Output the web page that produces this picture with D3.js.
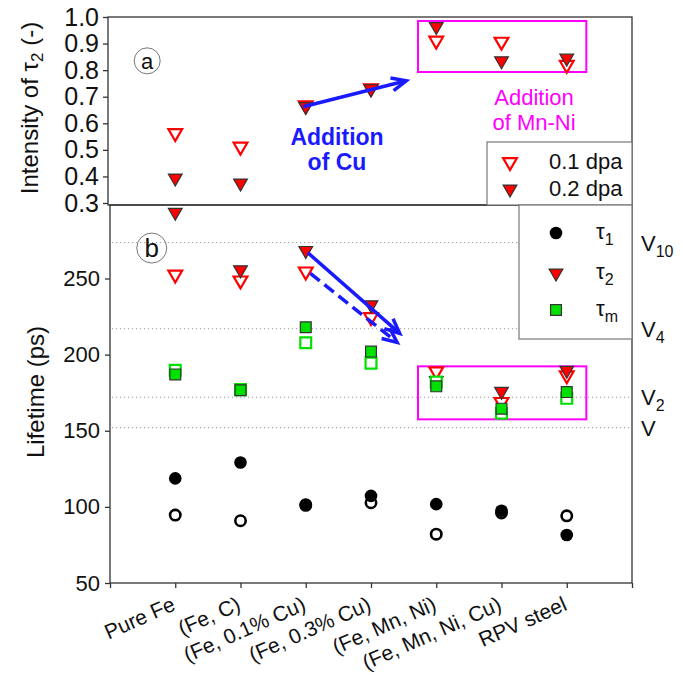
<!DOCTYPE html>
<html>
<head>
<meta charset="utf-8">
<script src="https://cdn.jsdelivr.net/npm/d3@7"></script>
<style>
  body { margin: 0; background: #fff; }
  svg { font-family: "Liberation Sans", Arial, sans-serif; }
  .axis path { display: none; }
  .axis line { stroke: #333; stroke-width: 1.3; }
  .axis text { fill: #111; font-family: "Liberation Sans", Arial, sans-serif; }
</style>
</head>
<body>
<svg width="683" height="681"></svg>
<script>
// categories and values
var categories = ["Pure Fe", "(Fe, C)", "(Fe, 0.1% Cu)", "(Fe, 0.3% Cu)", "(Fe, Mn, Ni)", "(Fe, Mn, Ni, Cu)", "RPV steel"];

// (a) intensity of tau2
var int01 = [0.563, 0.512, 0.668, 0.732, 0.911, 0.907, 0.820];
var int02 = [0.394, 0.375, 0.663, 0.730, 0.964, 0.835, 0.845];

// (b) lifetimes in ps, 0.1 dpa = open, 0.2 dpa = filled
var tau1_01 = [94.6, 90.9, 101.0, 102.7, 82.1, 96.0, 94.1];
var tau1_02 = [118.7, 129.1, 101.6, 107.2, 101.8, 97.5, 81.5];
var tau2_01 = [252.6, 248.7, 254.6, 224.6, 189.0, 168.9, 186.4];
var tau2_02 = [293.5, 255.7, 268.4, 232.7, 183.0, 175.9, 189.7];
var taum_01 = [189.7, 177.0, 207.8, 194.4, 182.0, 161.5, 171.3];
var taum_02 = [187.0, 176.6, 218.0, 202.0, 179.2, 164.5, 175.4];

var topTicks = [0.3, 0.4, 0.5, 0.6, 0.7, 0.8, 0.9, 1.0];
var botTicks = [50, 100, 150, 200, 250];

// vacancy cluster levels
var vacLevels = [273.6, 217, 172, 152];
var vacLabels = [["V", "10"], ["V", "4"], ["V", "2"], ["V", ""]];

var svg = d3.select("svg");
var L = 110, R = 632, midY = 205;

var x = d3.scaleLinear().domain([0, 8]).range([L, R]);
var yA = d3.scaleLinear().domain([0.3, 1.0]).range([203, 17]);
var yB = d3.scaleLinear().domain([50, 250]).range([583, 278.5]);

var red = "#ff0000", green = "#00e000", blue = "#1a1aff", magenta = "#ff00ff";

// ---------- dotted vacancy lines ----------
svg.selectAll(".vac").data(vacLevels).enter().append("line")
  .attr("x1", L + 2).attr("x2", R)
  .attr("y1", function(d) { return yB(d); }).attr("y2", function(d) { return yB(d); })
  .attr("stroke", "#999").attr("stroke-width", 1).attr("stroke-dasharray", "1.2,2.8");

var vt = svg.selectAll(".vlab").data(vacLevels).enter().append("text")
  .attr("x", 641).attr("y", function(d) { return yB(d) + 8; })
  .attr("font-size", 22).attr("fill", "#111");
vt.append("tspan").text(function(d, i) { return vacLabels[i][0]; });
vt.append("tspan").attr("dy", 6).attr("font-size", 16).text(function(d, i) { return vacLabels[i][1]; });

// ---------- frames ----------
svg.append("rect").attr("x", 108).attr("y", 17).attr("width", R - 108).attr("height", midY - 17)
  .attr("fill", "none").attr("stroke", "#333").attr("stroke-width", 1.3);
svg.append("rect").attr("x", L).attr("y", midY).attr("width", R - L).attr("height", 583 - midY)
  .attr("fill", "none").attr("stroke", "#333").attr("stroke-width", 1.3);

// ---------- axes ----------
svg.append("g").attr("class", "axis").attr("transform", "translate(108,0)")
  .call(d3.axisLeft(yA).tickValues(topTicks).tickFormat(d3.format(".1f")).tickSize(5).tickPadding(4))
  .selectAll("text").attr("font-size", 25);

svg.append("g").attr("class", "axis").attr("transform", "translate(" + L + ",0)")
  .call(d3.axisLeft(yB).tickValues(botTicks).tickSize(5).tickPadding(5))
  .selectAll("text").attr("font-size", 22);

svg.append("g").attr("class", "axis").attr("transform", "translate(0,583)")
  .call(d3.axisBottom(x).tickValues(d3.range(0, 9)).tickFormat("").tickSize(5));

svg.selectAll(".xlab").data(categories).enter().append("text")
  .attr("transform", function(d, i) { return "translate(" + (x(i + 1) - 5) + ",595) rotate(-24)"; })
  .attr("text-anchor", "end").attr("dy", "0.75em")
  .attr("font-size", 21).attr("fill", "#111").text(function(d) { return d; });

// axis titles
var t1 = svg.append("text").attr("transform", "translate(38,108) rotate(-90)")
  .attr("text-anchor", "middle").attr("font-size", 24).attr("fill", "#111");
t1.append("tspan").text("Intensity of \u03c4");
t1.append("tspan").attr("dy", 5).attr("font-size", 17).text("2");
t1.append("tspan").attr("dy", -5).text(" (-)");

svg.append("text").attr("transform", "translate(44,392) rotate(-90)")
  .attr("text-anchor", "middle").attr("font-size", 24).attr("fill", "#111").text("Lifetime (ps)");

// ---------- markers ----------
var tri = d3.symbol().type(d3.symbolTriangle).size(82);
var sq = d3.symbol().type(d3.symbolSquare).size(118);

function triangles(vals, yS, filled) {
  svg.append("g").selectAll("path").data(vals).enter().append("path")
    .attr("d", tri)
    .attr("transform", function(d, i) { return "translate(" + x(i + 1) + "," + yS(d) + ") rotate(180)"; })
    .attr("fill", filled ? red : "#fff")
    .attr("stroke", filled ? "#333" : red)
    .attr("stroke-width", filled ? 1.2 : 2.2);
}
function squares(vals, filled) {
  svg.append("g").selectAll("path").data(vals).enter().append("path")
    .attr("d", sq)
    .attr("transform", function(d, i) { return "translate(" + x(i + 1) + "," + yB(d) + ")"; })
    .attr("fill", filled ? green : "#fff")
    .attr("stroke", filled ? "#333" : green)
    .attr("stroke-width", filled ? 1.2 : 2.2);
}
function circles(vals, filled) {
  svg.append("g").selectAll("circle").data(vals).enter().append("circle")
    .attr("cx", function(d, i) { return x(i + 1); })
    .attr("cy", function(d) { return yB(d); })
    .attr("r", filled ? 6.3 : 5.2)
    .attr("fill", filled ? "#000" : "#fff")
    .attr("stroke", "#000").attr("stroke-width", filled ? 0 : 2.6);
}

// magenta boxes (behind markers)
svg.append("rect").attr("x", x(4.72)).attr("y", yA(0.985))
  .attr("width", x(7.3) - x(4.72)).attr("height", yA(0.793) - yA(0.985))
  .attr("fill", "none").attr("stroke", magenta).attr("stroke-width", 2);
svg.append("rect").attr("x", x(4.72)).attr("y", yB(192.3))
  .attr("width", x(7.3) - x(4.72)).attr("height", yB(157.5) - yB(192.3))
  .attr("fill", "none").attr("stroke", magenta).attr("stroke-width", 2);

triangles(int01, yA, false);
triangles(int02, yA, true);

circles(tau1_01, false);
circles(tau1_02, true);
triangles(tau2_01, yB, false);
triangles(tau2_02, yB, true);
squares(taum_01, false);
squares(taum_02, true);

// ---------- annotations ----------
function arrow(x1, y1, x2, y2, dash) {
  var a = Math.atan2(y2 - y1, x2 - x1), h = 16, s = 0.42;
  svg.append("line").attr("x1", x1).attr("y1", y1).attr("x2", x2).attr("y2", y2)
    .attr("stroke", blue).attr("stroke-width", 3.5).attr("stroke-dasharray", dash || null);
  var p = d3.path();
  p.moveTo(x2 - h * Math.cos(a - s), y2 - h * Math.sin(a - s));
  p.lineTo(x2, y2);
  p.lineTo(x2 - h * Math.cos(a + s), y2 - h * Math.sin(a + s));
  svg.append("path").attr("d", p.toString()).attr("fill", "none")
    .attr("stroke", blue).attr("stroke-width", 3.5).attr("stroke-linejoin", "miter");
}
arrow(x(2.96), yA(0.662), x(4.54), yA(0.76));
arrow(x(3.03), yB(267), x(4.44), yB(214));
arrow(x(3.07), yB(253.3), x(4.4), yB(208), "12,6");

svg.append("text").attr("x", 337).attr("y", 145).attr("text-anchor", "middle")
  .attr("font-size", 23).attr("font-weight", "bold").attr("fill", blue).text("Addition");
svg.append("text").attr("x", 337).attr("y", 170).attr("text-anchor", "middle")
  .attr("font-size", 23).attr("font-weight", "bold").attr("fill", blue).text("of Cu");

svg.append("text").attr("x", 534).attr("y", 105).attr("text-anchor", "middle")
  .attr("font-size", 22).attr("fill", magenta).text("Addition");
svg.append("text").attr("x", 534).attr("y", 130).attr("text-anchor", "middle")
  .attr("font-size", 22).attr("fill", magenta).text("of Mn-Ni");

// panel letters
[["a", 0.57, yA, 0.835, 13], ["b", 0.64, yB, 270, 15]].forEach(function(c) {
  var cx = x(c[1]), cy = c[2](c[3]);
  svg.append("circle").attr("cx", cx).attr("cy", cy).attr("r", c[4])
    .attr("fill", "none").attr("stroke", "#777").attr("stroke-width", 1);
  svg.append("text").attr("x", cx).attr("y", cy).attr("dy", "0.36em").attr("text-anchor", "middle")
    .attr("font-size", c[4] === 13 ? 22 : 26).attr("fill", "#111").text(c[0]);
});

// ---------- legends ----------
svg.append("rect").attr("x", 487).attr("y", 142).attr("width", R - 487).attr("height", midY - 142)
  .attr("fill", "#fff").attr("stroke", "#777").attr("stroke-width", 1.2);
[["0.1 dpa", false, 162], ["0.2 dpa", true, 189]].forEach(function(e) {
  svg.append("path").attr("d", tri).attr("transform", "translate(510," + e[2] + ") rotate(180)")
    .attr("fill", e[1] ? red : "#fff").attr("stroke", e[1] ? "#333" : red).attr("stroke-width", e[1] ? 1.2 : 2.2);
  svg.append("text").attr("x", 549).attr("y", e[2] + 7).attr("font-size", 22).attr("fill", "#111").text(e[0]);
});

svg.append("rect").attr("x", 519).attr("y", midY).attr("width", R - 519).attr("height", 339 - midY)
  .attr("fill", "#fff").attr("stroke", "#777").attr("stroke-width", 1.2);
svg.append("circle").attr("cx", 556).attr("cy", 233).attr("r", 6.3).attr("fill", "#000");
svg.append("path").attr("d", tri).attr("transform", "translate(556,273) rotate(180)")
  .attr("fill", red).attr("stroke", "#333").attr("stroke-width", 1.2);
svg.append("path").attr("d", sq).attr("transform", "translate(556,310)")
  .attr("fill", green).attr("stroke", "#333").attr("stroke-width", 1.2);
[["1", 239], ["2", 279], ["m", 316]].forEach(function(e) {
  var t = svg.append("text").attr("x", 596).attr("y", e[1]).attr("font-size", 22).attr("fill", "#111");
  t.append("tspan").text("\u03c4");
  t.append("tspan").attr("dy", 6).attr("font-size", 16).text(e[0]);
});
</script>
</body>
</html>
